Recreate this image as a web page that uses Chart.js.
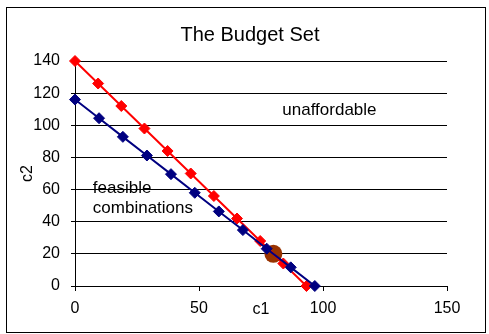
<!DOCTYPE html>
<html>
<head>
<meta charset="utf-8">
<script src="https://cdn.jsdelivr.net/npm/chart.js@4/dist/chart.umd.min.js"></script>
<style>
  html, body { margin: 0; padding: 0; background: #fff; }
  canvas { display: block; }
</style>
</head>
<body>
<canvas id="budget" width="489" height="334"></canvas>
<script>
// budget line before (red) and after (blue), plus the chosen bundle
const redC1 = [0, 9.33, 18.67, 28, 37.33, 46.67, 56, 65.33, 74.67, 84, 93.33]
const redC2 = [140, 126, 112, 98, 84, 70, 56, 42, 28, 14, 0]
const blueC1 = [0, 9.7, 19.3, 29, 38.7, 48.3, 58, 67.7, 77.3, 87, 96.7]
const blueC2 = [116, 104.4, 92.8, 81.2, 69.6, 58, 46.4, 34.8, 23.2, 11.6, 0]
const chosenC1 = [80]
const chosenC2 = [20]

const xTicks = [0, 50, 100, 150]
const yTicks = [0, 20, 40, 60, 80, 100, 120, 140]

const chartTitle = 'The Budget Set'
const notes = [
  { text: 'unaffordable', c1: 83.6, c2: 109.5 },
  { text: 'feasible', c1: 7.2, c2: 61 },
  { text: 'combinations', c1: 7.2, c2: 48.5 },
]

const FONT = 'Arial, "Liberation Sans", sans-serif'

function toPoints(xs, ys) {
  return xs.map((x, i) => ({ x: x, y: ys[i] }))
}

// frame, title and the two text notes
const decorations = {
  id: 'decorations',
  afterDraw(chart) {
    const ctx = chart.ctx
    const { x, y } = chart.scales
    ctx.save()
    ctx.strokeStyle = '#000'
    ctx.lineWidth = 1
    ctx.strokeRect(6.5, 7.5, 479, 325)

    ctx.fillStyle = '#000'
    ctx.textBaseline = 'middle'
    ctx.textAlign = 'center'
    ctx.font = '20px ' + FONT
    ctx.fillText(chartTitle, 250, 35)

    ctx.textAlign = 'left'
    ctx.font = '17px ' + FONT
    notes.forEach(note => {
      ctx.fillText(note.text, x.getPixelForValue(note.c1), y.getPixelForValue(note.c2))
    })
    ctx.restore()
  }
}

new Chart(document.getElementById('budget'), {
  type: 'scatter',
  data: {
    datasets: [
      {
        label: 'new budget',
        data: toPoints(blueC1, blueC2),
        showLine: true,
        borderColor: '#000080',
        backgroundColor: '#000080',
        borderWidth: 2,
        pointStyle: 'rectRot',
        pointRadius: 5.5,
        pointBorderWidth: 1,
        clip: false,
        order: 0,
      },
      {
        label: 'old budget',
        data: toPoints(redC1, redC2),
        showLine: true,
        borderColor: '#ff0000',
        backgroundColor: '#ff0000',
        borderWidth: 2,
        pointStyle: 'rectRot',
        pointRadius: 5.5,
        pointBorderWidth: 1,
        clip: false,
        order: 1,
      },
      {
        label: 'chosen',
        data: toPoints(chosenC1, chosenC2),
        showLine: false,
        borderColor: '#993300',
        backgroundColor: '#993300',
        pointRadius: 9,
        pointBorderWidth: 0,
        clip: false,
        order: 2,
      },
    ]
  },
  options: {
    responsive: false,
    devicePixelRatio: 1,
    animation: false,
    layout: { padding: { left: 0, right: 42, top: 61, bottom: 15 } },
    plugins: {
      legend: { display: false },
      tooltip: { enabled: false },
    },
    scales: {
      x: {
        type: 'linear',
        min: 0,
        max: 150,
        afterBuildTicks: scale => { scale.ticks = xTicks.map(v => ({ value: v })) },
        afterFit: scale => { scale.height = 33 },
        ticks: { color: '#000', font: { family: FONT, size: 16 }, padding: 8, maxRotation: 0 },
        grid: { drawOnChartArea: false, color: '#000', tickLength: 5 },
        border: { color: '#000' },
        title: { display: true, text: 'c1', color: '#000', font: { family: FONT, size: 16 }, padding: { top: 0, bottom: 0 } },
      },
      y: {
        type: 'linear',
        min: 0,
        max: 140,
        afterBuildTicks: scale => { scale.ticks = yTicks.map(v => ({ value: v })) },
        afterFit: scale => { scale.width = 75 },
        ticks: { color: '#000', font: { family: FONT, size: 16 }, padding: 11 },
        grid: { color: '#000', tickLength: 4 },
        border: { color: '#000' },
        title: { display: true, text: 'c2', color: '#000', font: { family: FONT, size: 16 }, padding: { top: 18, bottom: 0 } },
      },
    }
  },
  plugins: [decorations]
})
</script>
</body>
</html>
